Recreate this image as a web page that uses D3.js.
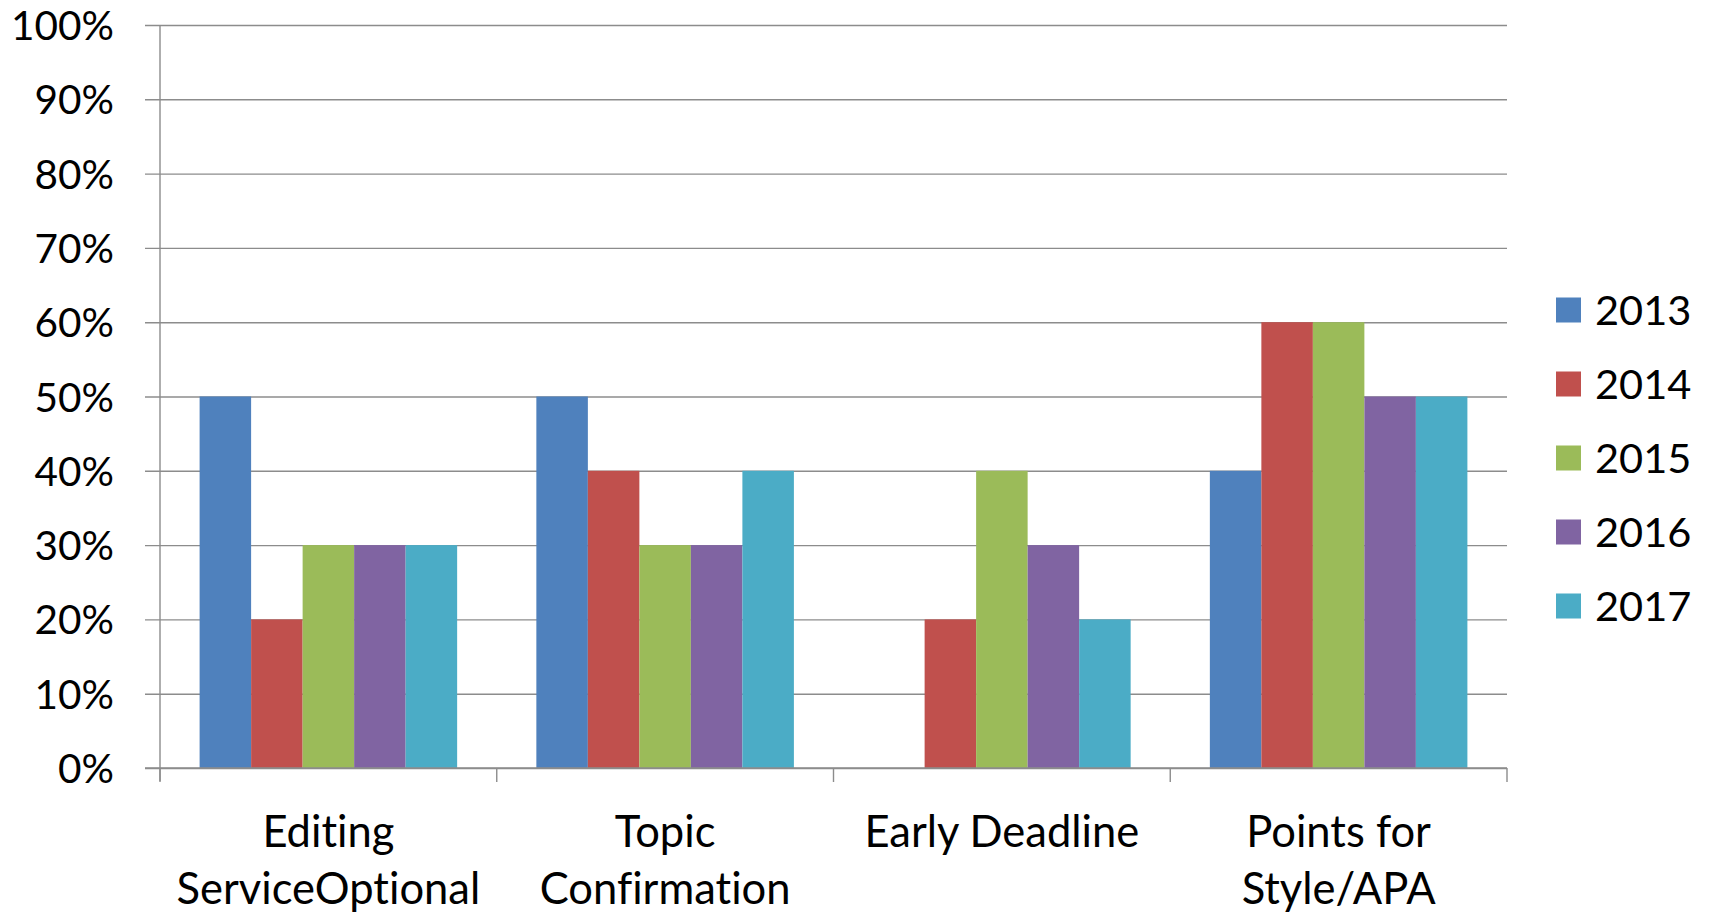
<!DOCTYPE html>
<html><head><meta charset="utf-8">
<script src="https://cdn.jsdelivr.net/npm/d3@7"></script>
<style>html,body{margin:0;padding:0;background:#fff;}svg{display:block;}text{font-variant-ligatures:none;}</style>
</head><body>
<script>
const categories = [["Editing","ServiceOptional"],["Topic","Confirmation"],["Early Deadline"],["Points for","Style/APA"]];
const seriesNames = ["2013","2014","2015","2016","2017"];
const v2013 = [0.50,0.50,0.00,0.40];
const v2014 = [0.20,0.40,0.20,0.60];
const v2015 = [0.30,0.30,0.40,0.60];
const v2016 = [0.30,0.30,0.30,0.50];
const v2017 = [0.30,0.40,0.20,0.50];
const colors = ["#4F81BD","#C0504D","#9BBB59","#8064A2","#4BACC6"];
const yTicks = [0,0.1,0.2,0.3,0.4,0.5,0.6,0.7,0.8,0.9,1.0];

const values = [v2013,v2014,v2015,v2016,v2017];
const W=1711,H=913;
const m={left:160,right:1507,top:25,bottom:768};
const font="Lato, 'Open Sans', sans-serif";
const svg=d3.select("body").append("svg").attr("width",W).attr("height",H);

const catIdx=categories.map((c,i)=>i);
const x0=d3.scaleBand().domain(catIdx).range([m.left,m.right]).paddingInner(0).paddingOuter(0);
const gapFrac = 79.2/336.7;
const x1=d3.scaleBand().domain(seriesNames).range([x0.bandwidth()*gapFrac/2, x0.bandwidth()*(1-gapFrac/2)]).padding(0);
const y=d3.scaleLinear().domain([0,1]).range([m.bottom,m.top]);
const grid="#8c8c8c";

// gridlines
const yAxis=d3.axisLeft(y).tickValues(yTicks).tickFormat(d3.format(".0%")).tickSize(m.right-m.left+15).tickPadding(0);
const gy=svg.append("g").attr("transform",`translate(${m.right},0)`).call(yAxis);
gy.select(".domain").remove();
gy.selectAll(".tick line").attr("stroke",grid).attr("stroke-width",1.4);
gy.selectAll(".tick text").attr("x",-(m.right-114)).attr("font-family",font).attr("font-size",40.5).attr("fill","#000").attr("dy","0.36em").attr("text-anchor","end");

// bars
seriesNames.forEach((s,si)=>{
  svg.append("g").selectAll("rect").data(values[si]).join("rect")
    .attr("x",(d,i)=>x0(i)+x1(s))
    .attr("width",x1.bandwidth())
    .attr("y",d=>y(d))
    .attr("height",d=>y(0)-y(d))
    .attr("fill",colors[si]);
});

// y axis line
svg.append("line").attr("x1",m.left).attr("x2",m.left).attr("y1",m.top).attr("y2",m.bottom+13).attr("stroke",grid).attr("stroke-width",1.4);
// x axis
svg.append("line").attr("x1",m.left-15).attr("x2",m.right).attr("y1",m.bottom).attr("y2",m.bottom).attr("stroke",grid).attr("stroke-width",1.6);
const bounds=catIdx.map(i=>x0(i)).concat([x0(catIdx.length-1)+x0.bandwidth()]);
svg.append("g").selectAll("line").data(bounds).join("line")
  .attr("x1",d=>d).attr("x2",d=>d).attr("y1",m.bottom).attr("y2",m.bottom+14)
  .attr("stroke",grid).attr("stroke-width",1.4);

// category labels
const cl=svg.append("g").selectAll("text").data(categories).join("text")
  .attr("x",(d,i)=>x0(i)+x0.bandwidth()/2)
  .attr("y",831)
  .attr("text-anchor","middle").attr("font-family",font).attr("font-size",43.5).attr("fill","#000");
cl.selectAll("tspan").data(d=>d).join("tspan")
  .attr("x",function(){return this.parentNode.getAttribute("x");})
  .attr("dy",(d,i)=>i===0?"0.36em":"57px").text(d=>d);

// legend
const lg=svg.append("g");
seriesNames.forEach((s,i)=>{
  const cy=310+i*74;
  lg.append("rect").attr("x",1556).attr("y",cy-12.5).attr("width",25).attr("height",25).attr("fill",colors[i]);
  lg.append("text").attr("x",1595).attr("y",cy).attr("dy","0.36em").attr("font-family",font).attr("font-size",41.5).attr("fill","#000").text(s);
});
</script>
</body></html>
